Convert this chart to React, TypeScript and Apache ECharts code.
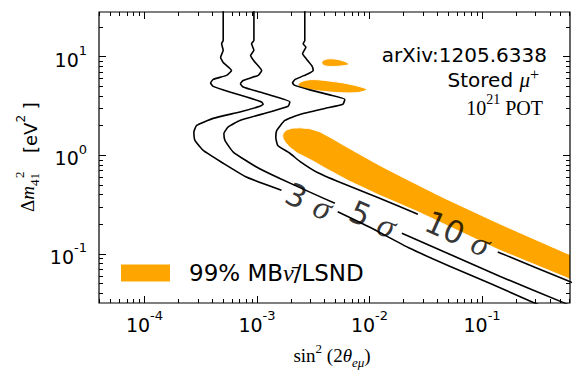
import React, { useEffect, useRef } from 'react';
import * as echarts from 'echarts';

const SANS = 'DejaVu Sans';
const SERIF = 'Liberation Serif';
const ORANGE = '#FFA500';

const X_RANGE = [3.945e-5, 0.605];
const Y_RANGE = [0.0318, 28.4];

const xMajorTicks = [1e-4, 1e-3, 1e-2, 1e-1];
const xMinorTicks = [
  4e-5, 5e-5, 6e-5, 7e-5, 8e-5, 9e-5,
  2e-4, 3e-4, 4e-4, 5e-4, 6e-4, 7e-4, 8e-4, 9e-4,
  2e-3, 3e-3, 4e-3, 5e-3, 6e-3, 7e-3, 8e-3, 9e-3,
  2e-2, 3e-2, 4e-2, 5e-2, 6e-2, 7e-2, 8e-2, 9e-2,
  0.2, 0.3, 0.4, 0.5, 0.6,
];
const yMajorTicks = [0.1, 1, 10];
const yMinorTicks = [
  0.04, 0.05, 0.06, 0.07, 0.08, 0.09,
  0.2, 0.3, 0.4, 0.5, 0.6, 0.7, 0.8, 0.9,
  2, 3, 4, 5, 6, 7, 8, 9,
  20,
];

// 3 sigma contour (split where the inline label sits)
const sigma3Upper = [
  [5.01e-4, 40], [5.01e-4, 14.6], [4.85e-4, 13.6], [5.01e-4, 11.6], [4.75e-4, 9.84],
  [5.01e-4, 8.75], [5.94e-4, 7.26], [5.37e-4, 6.47], [4.08e-4, 5.89], [3.87e-4, 5.4],
  [4.08e-4, 5.0], [5.74e-4, 4.38], [8.09e-4, 3.9], [1.1e-3, 3.47], [1.135e-3, 3.29],
  [1.06e-3, 3.14], [7.05e-4, 2.75], [4.08e-4, 2.37], [2.91e-4, 2.01], [2.75e-4, 1.72],
  [2.81e-4, 1.42], [3.33e-4, 1.12], [5.01e-4, 0.83], [8.13e-4, 0.598], [1.65e-3, 0.442],
];
const sigma3Lower = [
  [5.22e-3, 0.268], [1.007e-2, 0.1865], [2.28e-2, 0.114], [5.16e-2, 0.075],
  [0.117, 0.0505], [0.282, 0.0324], [0.49, 0.025],
];
// 5 sigma contour
const sigma5Upper = [
  [9.39e-4, 40], [9.39e-4, 14.6], [8.95e-4, 13.6], [9.39e-4, 11.6], [8.77e-4, 10.3],
  [9.58e-4, 8.82], [1.1e-3, 7.26], [1.026e-3, 6.47], [7.53e-4, 5.75], [7.14e-4, 5.33],
  [7.53e-4, 4.92], [1.06e-3, 4.38], [1.49e-3, 3.9], [1.96e-3, 3.47], [1.89e-3, 3.14],
  [1.3e-3, 2.75], [7.05e-4, 2.26], [5.55e-4, 1.94], [5.08e-4, 1.66], [5.19e-4, 1.42],
  [6.15e-4, 1.08], [9.91e-4, 0.761], [1.6e-3, 0.581], [3.16e-3, 0.409], [4.92e-3, 0.326],
];
const sigma5Lower = [
  [1.94e-2, 0.162], [5.16e-2, 0.0993], [0.1436, 0.0594], [0.542, 0.0317], [0.905, 0.025],
];
// 10 sigma contour
const sigma10Upper = [
  [2.66e-3, 40], [2.66e-3, 14.6], [2.57e-3, 13.5], [2.72e-3, 12.5], [2.54e-3, 10.7],
  [2.66e-3, 9.91], [3.06e-3, 8.16], [3.16e-3, 7.26], [2.85e-3, 6.73], [2.17e-3, 5.85],
  [2.07e-3, 5.4], [2.17e-3, 5.12], [2.95e-3, 4.61], [4.43e-3, 4.1], [6.03e-3, 3.69],
  [5.8e-3, 3.29], [4.01e-3, 2.99], [2.4e-3, 2.6], [1.77e-3, 2.26], [1.5e-3, 1.79],
  [1.47e-3, 1.52], [1.53e-3, 1.26], [1.96e-3, 1.05], [2.4e-3, 0.869], [3.48e-3, 0.665],
  [5.45e-3, 0.533], [1.23e-2, 0.367], [2.69e-2, 0.252],
];
const sigma10Lower = [
  [0.1378, 0.1047], [0.565, 0.0541], [1.11, 0.039],
];

// 99% MiniBooNE antineutrino / LSND allowed regions
const bandRegion = [
  [1.69e-3, 1.6], [1.74e-3, 1.72], [1.84e-3, 1.81], [2.04e-3, 1.88], [2.4e-3, 1.9],
  [2.95e-3, 1.86], [3.62e-3, 1.73], [4.72e-3, 1.47], [6.03e-3, 1.248], [8.2e-3, 1.024],
  [1.23e-2, 0.792], [1.86e-2, 0.62], [4.48e-2, 0.375], [0.1436, 0.202], [0.565, 0.1016],
  [1.11, 0.0733],
  [1.11, 0.0414], [0.565, 0.0574], [0.1436, 0.109], [5.16e-2, 0.1886], [2.69e-2, 0.2677],
  [1.23e-2, 0.393], [6.68e-3, 0.545], [4.01e-3, 0.745], [3.06e-3, 0.89], [2.3e-3, 1.05],
  [1.98e-3, 1.19], [1.8e-3, 1.34], [1.71e-3, 1.47],
];
const upperIsland = [
  [3.77e-3, 8.75], [3.93e-3, 9.28], [4.44e-3, 9.54], [5.23e-3, 9.39], [6.16e-3, 8.86],
  [6.55e-3, 8.36], [5.91e-3, 8.11], [4.92e-3, 7.97], [4.18e-3, 8.01], [3.85e-3, 8.26],
];
const middleIsland = [
  [2.32e-3, 5.24], [2.51e-3, 5.62], [2.95e-3, 5.85], [3.62e-3, 5.82], [4.44e-3, 5.66],
  [5.79e-3, 5.43], [7.4e-3, 5.12], [8.9e-3, 4.83], [9.46e-3, 4.61], [8.54e-3, 4.4],
  [7.4e-3, 4.3], [5.79e-3, 4.3], [4.44e-3, 4.38], [3.27e-3, 4.56], [2.72e-3, 4.74],
  [2.4e-3, 4.94],
];

const sigmaLabelLevels = ['3', '5', '10'];
const sigmaLabelX = [2.89e-3, 1.07e-2, 6.08e-2];
const sigmaLabelY = [0.342, 0.225, 0.162];

const LEGEND_NAME = '99% MB/LSND';

const tickRich = {
  b: { fontFamily: SANS, fontSize: 19, color: '#000', lineHeight: 25, verticalAlign: 'bottom' },
  s: { fontFamily: SANS, fontSize: 13, color: '#000', lineHeight: 13, verticalAlign: 'top' },
};
const expLabel = (v: number) => `{b|10}{s|${Math.round(Math.log10(v))}}`;

function logAxis(gridIndex: number, range: number[], position: string, ticks: number[], len: number, labels: boolean, extraLabel: any = {}) {
  return {
    gridIndex,
    type: 'log',
    logBase: 10,
    min: range[0],
    max: range[1],
    position,
    axisLine: { show: false, onZero: false },
    splitLine: { show: false },
    minorTick: { show: false },
    minorSplitLine: { show: false },
    axisTick: { show: true, inside: true, length: len, customValues: ticks, lineStyle: { color: '#000', width: 1 } },
    axisLabel: labels
      ? { show: true, customValues: ticks, formatter: expLabel, rich: tickRich, color: '#000', ...extraLabel }
      : { show: false },
  };
}

function lineSeg(data: number[][]) {
  return {
    type: 'line',
    xAxisIndex: 0,
    yAxisIndex: 0,
    data,
    symbol: 'none',
    showSymbol: false,
    smooth: 0.15,
    clip: true,
    silent: true,
    lineStyle: { color: '#000', width: 1.6 },
    z: 3,
  };
}

function buildOption(): any {
  const orangeShapes = [bandRegion, upperIsland, middleIsland];
  const shapeSmooth = [0.05, 0.3, 0.3];
  return {
    animation: false,
    backgroundColor: '#fff',
    grid: [
      { left: 99, right: 11, top: 12, bottom: 80, show: true, borderColor: '#000', borderWidth: 1.2, backgroundColor: 'transparent', containLabel: false, z: 10 },
      { left: 99, right: 11, top: 12, bottom: 80, show: false, containLabel: false },
    ],
    xAxis: [
      logAxis(0, X_RANGE, 'bottom', xMajorTicks, 7, true, { margin: 6 }),
      logAxis(0, X_RANGE, 'top', xMajorTicks, 7, false),
      logAxis(1, X_RANGE, 'bottom', xMinorTicks, 4, false),
      logAxis(1, X_RANGE, 'top', xMinorTicks, 4, false),
    ],
    yAxis: [
      logAxis(0, Y_RANGE, 'left', yMajorTicks, 7, true, { margin: 12 }),
      logAxis(0, Y_RANGE, 'right', yMajorTicks, 7, false),
      logAxis(1, Y_RANGE, 'left', yMinorTicks, 4, false),
      logAxis(1, Y_RANGE, 'right', yMinorTicks, 4, false),
    ],
    legend: {
      data: [{ name: LEGEND_NAME, icon: 'rect' }],
      left: 121,
      top: 261,
      itemWidth: 49,
      itemHeight: 17,
      padding: 0,
      selectedMode: false,
      formatter: () => '{g| }{a|99% MB}{n|ν\u0304}{a|/LSND}',
      textStyle: {
        rich: {
          g: { width: 14 },
          a: { fontFamily: SANS, fontSize: 23, color: '#000' },
          n: { fontFamily: SERIF, fontStyle: 'italic', fontSize: 24, color: '#000' },
        },
      },
    },
    series: [
      {
        type: 'custom',
        name: LEGEND_NAME,
        coordinateSystem: 'cartesian2d',
        xAxisIndex: 0,
        yAxisIndex: 0,
        clip: true,
        silent: true,
        z: 1,
        itemStyle: { color: ORANGE },
        data: orangeShapes.map((s, i) => [s[0][0], s[0][1], i]),
        encode: { x: 0, y: 1 },
        renderItem: (params: any, api: any) => {
          const idx = api.value(2);
          const shape = orangeShapes[idx];
          return {
            type: 'polygon',
            shape: { points: shape.map((p) => api.coord(p)), smooth: shapeSmooth[idx] },
            style: { fill: ORANGE, stroke: '#fff', lineWidth: 1 },
          };
        },
      },
      lineSeg(sigma3Upper),
      lineSeg(sigma3Lower),
      lineSeg(sigma5Upper),
      lineSeg(sigma5Lower),
      lineSeg(sigma10Upper),
      lineSeg(sigma10Lower),
      {
        type: 'scatter',
        xAxisIndex: 0,
        yAxisIndex: 0,
        silent: true,
        symbolSize: 1,
        itemStyle: { color: 'rgba(0,0,0,0)' },
        z: 6,
        data: sigmaLabelLevels.map((t, i) => ({ name: t, value: [sigmaLabelX[i], sigmaLabelY[i]] })),
        label: {
          show: true,
          position: 'inside',
          rotate: -24,
          formatter: (p: any) => `{n|${p.name}}{w| }{g|σ}`,
          rich: {
            n: { fontFamily: SANS, fontSize: 31, color: '#000' },
            w: { width: 11 },
            g: { fontFamily: SERIF, fontStyle: 'italic', fontSize: 34, color: '#000' },
          },
        },
      },
    ],
    graphic: [
      {
        type: 'text', x: 547, y: 54.5, silent: true,
        style: { text: 'arXiv:1205.6338', font: `20px "${SANS}"`, fill: '#000', align: 'right', textAlign: 'right', verticalAlign: 'middle', textVerticalAlign: 'middle' },
      },
      {
        type: 'text', x: 539, y: 78, silent: true,
        style: {
          text: '{a|Stored }{m|μ}{s|+}', align: 'right', textAlign: 'right', verticalAlign: 'middle', textVerticalAlign: 'middle',
          rich: {
            a: { fontFamily: SANS, fontSize: 20, fill: '#000', color: '#000', lineHeight: 24, verticalAlign: 'bottom' },
            m: { fontFamily: SERIF, fontStyle: 'italic', fontSize: 21, fill: '#000', color: '#000', lineHeight: 24, verticalAlign: 'bottom' },
            s: { fontFamily: SERIF, fontSize: 16, fill: '#000', color: '#000', lineHeight: 16, verticalAlign: 'top' },
          },
        },
      },
      {
        type: 'text', x: 543, y: 105, silent: true,
        style: {
          text: '{a|10}{s|21}{a| POT}', align: 'right', textAlign: 'right', verticalAlign: 'middle', textVerticalAlign: 'middle',
          rich: {
            a: { fontFamily: SERIF, fontSize: 20, fill: '#000', color: '#000', lineHeight: 26, verticalAlign: 'bottom' },
            s: { fontFamily: SERIF, fontSize: 14, fill: '#000', color: '#000', lineHeight: 14, verticalAlign: 'top' },
          },
        },
      },
      {
        type: 'text', x: 332, y: 355, silent: true,
        style: {
          text: '{r|sin}{s|2}{r| (2}{i|θ}{u|eμ}{r|)}', align: 'center', textAlign: 'center', verticalAlign: 'middle', textVerticalAlign: 'middle',
          rich: {
            r: { fontFamily: SERIF, fontSize: 19, fill: '#000', color: '#000', lineHeight: 27 },
            i: { fontFamily: SERIF, fontStyle: 'italic', fontSize: 19, fill: '#000', color: '#000', lineHeight: 27 },
            s: { fontFamily: SERIF, fontSize: 13, fill: '#000', color: '#000', lineHeight: 13, verticalAlign: 'top' },
            u: { fontFamily: SERIF, fontStyle: 'italic', fontSize: 13, fill: '#000', color: '#000', lineHeight: 13, verticalAlign: 'bottom' },
          },
        },
      },
      {
        type: 'group', x: 27, y: 157, rotation: Math.PI / 2, silent: true,
        children: [
          {
            type: 'text', x: -55, y: 0,
            style: {
              text: '{d|Δ}{m|m}{u|41}', align: 'left', textAlign: 'left', verticalAlign: 'middle', textVerticalAlign: 'middle',
              rich: {
                d: { fontFamily: SERIF, fontSize: 19, fill: '#000', color: '#000', lineHeight: 28 },
                m: { fontFamily: SERIF, fontStyle: 'italic', fontSize: 19, fill: '#000', color: '#000', lineHeight: 28 },
                u: { fontFamily: SERIF, fontSize: 13, fill: '#000', color: '#000', lineHeight: 13, verticalAlign: 'bottom' },
              },
            },
          },
          {
            type: 'text', x: -21, y: -8,
            style: { text: '2', font: `13px "${SERIF}"`, fill: '#000', align: 'left', textAlign: 'left', verticalAlign: 'middle', textVerticalAlign: 'middle' },
          },
          {
            type: 'text', x: 4, y: 0,
            style: {
              text: '{a|[eV}{s|2}{a| ]}', align: 'left', textAlign: 'left', verticalAlign: 'middle', textVerticalAlign: 'middle',
              rich: {
                a: { fontFamily: SANS, fontSize: 18, fill: '#000', color: '#000', lineHeight: 25, verticalAlign: 'bottom' },
                s: { fontFamily: SANS, fontSize: 12, fill: '#000', color: '#000', lineHeight: 12, verticalAlign: 'top' },
              },
            },
          },
        ],
      },
    ],
  };
}

export default function App() {
  const ref = useRef<HTMLDivElement>(null);
  useEffect(() => {
    document.body.style.margin = '0';
    const chart = echarts.init(ref.current as HTMLDivElement, null, { renderer: 'svg' });
    chart.setOption(buildOption());
    return () => chart.dispose();
  }, []);
  return <div ref={ref} style={{ width: 581, height: 383 }} />;
}
